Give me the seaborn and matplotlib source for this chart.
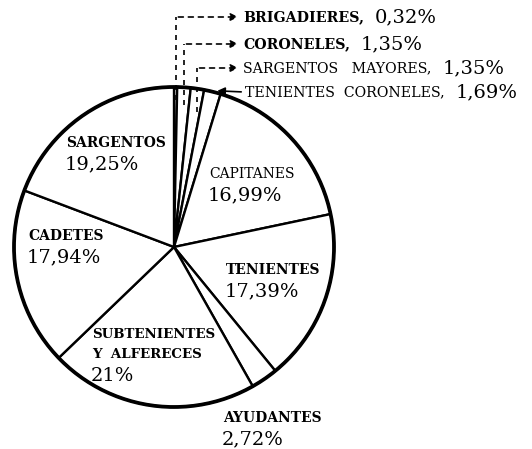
import numpy as np
import matplotlib
matplotlib.use("Agg")
import matplotlib.pyplot as plt
import seaborn as sns

grados = ["BRIGADIERES", "CORONELES", "SARGENTOS   MAYORES", "TENIENTES  CORONELES",
          "CAPITANES", "TENIENTES", "AYUDANTES", "SUBTENIENTES\nY  ALFERECES",
          "CADETES", "SARGENTOS"]
porcentajes = [0.32, 1.35, 1.35, 1.69, 16.99, 17.39, 2.72, 21.0, 17.94, 19.25]
etiquetas = ["0,32%", "1,35%", "1,35%", "1,69%", "16,99%", "17,39%",
             "2,72%", "21%", "17,94%", "19,25%"]

sns.set_theme(style="white")
plt.rcParams['font.family'] = ['DejaVu Serif']

W, H = 532, 449
fig = plt.figure(figsize=(W / 100, H / 100), dpi=100)
ax = fig.add_axes([0, 0, 1, 1])

cx, cy, R = 174, H - 247, 160
wedges, _ = ax.pie(porcentajes, startangle=90, counterclock=False,
                   center=(cx, cy), radius=R,
                   wedgeprops=dict(facecolor='white', edgecolor='black', linewidth=1.7))
ax.add_patch(plt.Circle((cx, cy), R, fill=False, ec='black', lw=2.7, zorder=5))
ax.set_xlim(0, W)
ax.set_ylim(0, H)
ax.set_aspect('equal')
ax.axis('off')

def Y(y):
    return H - y

# labels inside / around the big wedges (image pixel coords)
pos_dentro = {
    "SARGENTOS": (66, 143, 'bold', 10),
    "CAPITANES": (209, 174, 'normal', 10),
    "CADETES": (28, 236, 'bold', 10),
    "TENIENTES": (226, 270, 'bold', 10),
    "SUBTENIENTES\nY  ALFERECES": (92, 334, 'bold', 9.6),
    "AYUDANTES": (223, 418, 'bold', 10),
}
for nombre, pct in zip(grados, etiquetas):
    if nombre not in pos_dentro:
        continue
    x, y, peso, fs = pos_dentro[nombre]
    lineas = nombre.split("\n")
    for k, ln in enumerate(lineas):
        ax.text(x, Y(y + 21 * k), ln, ha='left', va='center', fontsize=fs,
                fontweight=peso, color='black')
    ax.text(x - 1, Y(y + 21 * len(lineas)), pct, ha='left', va='center',
            fontsize=14, color='black')

# small wedges at the top with dashed arrows
pos_arriba = {
    "BRIGADIERES": (243, 17, 'bold', 100),
    "CORONELES": (243, 44, 'bold', 105),
    "SARGENTOS   MAYORES": (243, 68, 'normal', 112),
    "TENIENTES  CORONELES": (245, 92, 'normal', None),
}
acum = np.cumsum([0] + porcentajes)
for i, (nombre, pct) in enumerate(zip(grados, etiquetas)):
    if nombre not in pos_arriba:
        continue
    x, y, peso, y_fin = pos_arriba[nombre]
    t = ax.text(x, Y(y), nombre + ",", ha='left', va='center', fontsize=10.2,
                fontweight=peso, color='black')
    ax.annotate(pct, xy=(1, 0.45), xycoords=t, xytext=(8, 0),
                textcoords='offset points', ha='left', va='center',
                fontsize=14, color='black')
    ang = np.deg2rad(90 - 360 * (acum[i] + acum[i + 1]) / 200)
    if y_fin is not None:
        xv = cx + 0.97 * R * np.cos(ang)
        ax.plot([xv, xv], [Y(y_fin), Y(y)], ls=(0, (3, 3)), color='black', lw=1.2)
        ax.annotate("", xy=(x - 2, Y(y)), xytext=(xv, Y(y)),
                    arrowprops=dict(arrowstyle='-|>', ls=(0, (3, 3)), color='black',
                                    lw=1.2, mutation_scale=11))
    else:
        xe = cx + R * np.cos(ang)
        ye = cy + R * np.sin(ang)
        ax.annotate("", xy=(xe + 2, ye + 1), xytext=(x - 1, Y(y)),
                    arrowprops=dict(arrowstyle='-|>', color='black', lw=1.2,
                                    mutation_scale=11))

fig.savefig("out.png", dpi=100, facecolor='white')
